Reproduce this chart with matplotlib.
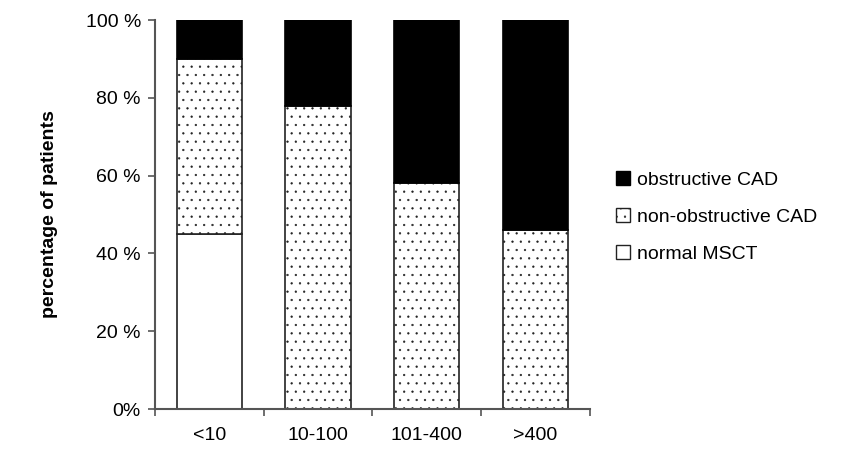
import numpy as np
import matplotlib
matplotlib.use('Agg')
import matplotlib.pyplot as plt
from matplotlib.patches import Patch

plt.rcParams['font.family'] = ['Liberation Sans', 'DejaVu Sans']
plt.rcParams['hatch.linewidth'] = 0.4

# datos (porcentaje de pacientes)
categorias = ['<10', '10-100', '101-400', '>400']
normal_msct = [45, 0, 0, 0]
no_obstructiva = [45, 78, 58, 46]
obstructiva = [10, 22, 42, 54]

fig = plt.figure(figsize=(8.65, 4.57), dpi=100)
ax = fig.add_axes([0.179, 0.105, 0.503, 0.851])

x = np.arange(len(categorias))
ancho = 0.6
borde = '#222222'

ax.bar(x, normal_msct, ancho, color='white', edgecolor=borde, linewidth=1.2)
ax.bar(x, no_obstructiva, ancho, bottom=normal_msct, color='white',
       edgecolor=borde, linewidth=1.2, hatch='..')
base = np.array(normal_msct) + np.array(no_obstructiva)
ax.bar(x, obstructiva, ancho, bottom=base, color='black',
       edgecolor='black', linewidth=1.2)

ax.set_xlim(-0.5, len(categorias) - 0.5)
ax.set_ylim(0, 100)
ax.set_yticks(np.arange(0, 101, 20))
ax.set_yticklabels(['0%', '20 %', '40 %', '60 %', '80 %', '100 %'], fontsize=14)
ax.set_xticks(x)
ax.set_xticklabels(categorias, fontsize=14)
ax.set_xticks(np.arange(-0.5, len(categorias)), minor=True)
ax.tick_params(axis='x', which='major', length=0, pad=13)
ax.tick_params(axis='x', which='minor', length=5, width=1.2, color='#555555')
ax.tick_params(axis='y', length=5, width=1.2, color='#555555', pad=5)

for lado in ['top', 'right']:
    ax.spines[lado].set_visible(False)
for lado in ['left', 'bottom']:
    ax.spines[lado].set_color('#555555')
    ax.spines[lado].set_linewidth(1.5)

ax.set_ylabel('percentage of patients', fontsize=14, fontweight='bold', labelpad=20)

elementos = [
    Patch(facecolor='black', edgecolor='black', label='obstructive CAD'),
    Patch(facecolor='white', edgecolor=borde, hatch='..', label='non-obstructive CAD'),
    Patch(facecolor='white', edgecolor=borde, label='normal MSCT'),
]
fig.legend(handles=elementos, loc='center left', bbox_to_anchor=(0.692, 0.525),
           frameon=False, fontsize=14, handlelength=0.7, handleheight=0.7,
           handletextpad=0.4, labelspacing=1.0)

plt.savefig('out.png', dpi=100)
